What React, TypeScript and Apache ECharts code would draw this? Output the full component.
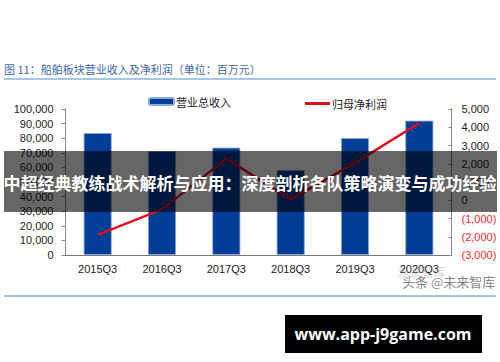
import React, { useEffect, useRef } from "react";
import * as echarts from "echarts";

const categories = ["2015Q3", "2016Q3", "2017Q3", "2018Q3", "2019Q3", "2020Q3"];
const revenue = [83500, 71200, 73500, 58200, 80100, 92000];
const netProfit = [-1900, -500, 2280, 50, 2050, 4230];
const leftTicks = { min: 0, max: 100000, interval: 10000 };
const rightTicks = { min: -3000, max: 5000, interval: 1000 };
const titleText = "图 11：船舶板块营业收入及净利润（单位：百万元）";
const bannerText = "中超经典教练战术解析与应用：深度剖析各队策略演变与成功经验";
const footerText = "www.app-j9game.com";
const watermarkText = "头条 @未来智库";
const seriesNames = ["营业总收入", "归母净利润"];

const fmt = (v: number) => Math.abs(v).toLocaleString("en-US");

export default function App() {
  const ref = useRef<HTMLDivElement>(null);
  useEffect(() => {
    document.body.style.margin = "0";
    const chart = echarts.init(ref.current!, null, { renderer: "svg" });
    const font = "'Liberation Sans', 'Noto Sans CJK SC', sans-serif";
    chart.setOption({
      animation: false,
      backgroundColor: "#ffffff",
      textStyle: { fontFamily: font },
      grid: { left: 65.5, right: 48.5, top: 109, bottom: 107 },
      legend: [
        {
          data: [seriesNames[0]],
          left: 143,
          top: 91,
          itemWidth: 25,
          itemHeight: 7,
          itemGap: 2,
          textStyle: { fontSize: 11, color: "#222", fontFamily: "'Noto Sans CJK SC', sans-serif", padding: [0, 0, 0, -3] },
          selectedMode: false,
        },
        {
          data: [{ name: seriesNames[1], icon: "rect" }],
          left: 300,
          top: 93,
          itemWidth: 25,
          itemHeight: 3,
          textStyle: { fontSize: 11, color: "#222", fontFamily: "'Noto Sans CJK SC', sans-serif", padding: [0, 0, 0, -3] },
          selectedMode: false,
        },
      ],
      xAxis: {
        type: "category",
        data: categories,
        axisLine: { lineStyle: { color: "#777", width: 1 } },
        axisTick: { show: false },
        axisLabel: { fontSize: 11, color: "#222", margin: 8 },
      },
      yAxis: [
        {
          type: "value",
          ...leftTicks,
          splitLine: { show: false },
          axisLine: { show: true, lineStyle: { color: "#888" } },
          axisTick: { show: true, length: 4, lineStyle: { color: "#888" } },
          axisLabel: { fontSize: 11, color: "#222", margin: 12, formatter: (v: number) => fmt(v) },
        },
        {
          type: "value",
          ...rightTicks,
          position: "right",
          splitLine: { show: false },
          axisLine: { show: true, lineStyle: { color: "#888" } },
          axisTick: { show: true, inside: true, length: 3, lineStyle: { color: "#888" } },
          axisLabel: {
            fontSize: 11,
            margin: 10,
            formatter: (v: number) => (v < 0 ? `{neg|(${fmt(v)})}` : `{pos|${fmt(v)}}`),
            rich: {
              neg: { color: "#ff2a2a", fontSize: 11, fontFamily: font },
              pos: { color: "#222", fontSize: 11, fontFamily: font },
            },
          },
        },
      ],
      series: [
        {
          name: seriesNames[0],
          type: "bar",
          data: revenue,
          barWidth: 28,
          itemStyle: { color: "#003e98", borderColor: "#8fa9d6", borderWidth: 0.8 },
        },
        {
          name: seriesNames[1],
          type: "line",
          yAxisIndex: 1,
          data: netProfit,
          symbol: "none",
          lineStyle: { color: "#e3101e", width: 2.5 },
          itemStyle: { color: "#e3101e" },
        },
      ],
      graphic: [
        {
          type: "text",
          left: 4,
          top: 63,
          style: { text: titleText, font: "11px 'Noto Sans CJK SC', sans-serif", fill: "#3b6aa3" },
        },
        {
          type: "rect",
          shape: { x: 4, y: 78, width: 492, height: 2 },
          style: { fill: "#a6c8e6" },
        },
        {
          type: "text",
          left: 398,
          top: 265,
          style: { text: "未来智库", font: "12px 'Noto Sans CJK SC', sans-serif", fill: "rgba(120,120,120,0.35)" },
          z: 10,
        },
        {
          type: "text",
          left: 402,
          top: 275,
          style: { text: watermarkText, font: "13px 'Noto Sans CJK SC', sans-serif", fill: "rgba(90,90,90,0.75)" },
          z: 10,
        },
        {
          type: "rect",
          shape: { x: 4, y: 295, width: 492, height: 2 },
          style: { fill: "#a6c8e6" },
        },
        {
          type: "rect",
          shape: { x: 4, y: 151, width: 493, height: 61 },
          style: { fill: "rgba(0,0,0,0.6)" },
          z: 100,
        },
        {
          type: "text",
          x: 250,
          y: 182,
          style: {
            text: bannerText,
            font: "bold 17px 'Noto Sans CJK SC', sans-serif",
            fill: "#ffffff",
            textAlign: "center",
            textVerticalAlign: "middle",
          },
          z: 101,
        },
        {
          type: "rect",
          shape: { x: 285, y: 315, width: 197, height: 38 },
          style: { fill: "#000000" },
          z: 100,
        },
        {
          type: "text",
          x: 383,
          y: 334,
          style: {
            text: footerText,
            font: "bold 16px 'Open Sans', 'DejaVu Sans', sans-serif",
            fill: "#ffffff",
            textAlign: "center",
            textVerticalAlign: "middle",
          },
          z: 101,
        },
      ],
    });
    return () => chart.dispose();
  }, []);
  return <div ref={ref} style={{ position: "fixed", left: 0, top: 0, width: 500, height: 362 }} />;
}
